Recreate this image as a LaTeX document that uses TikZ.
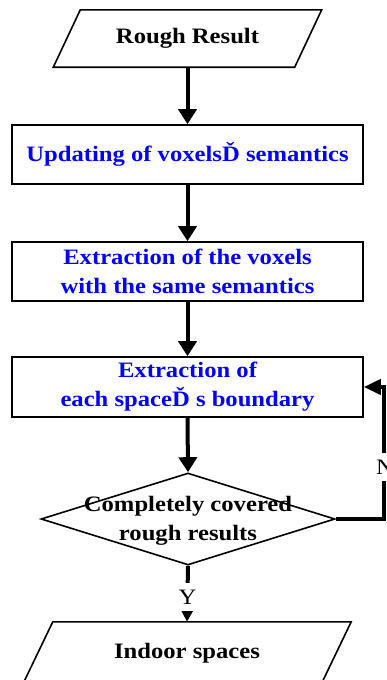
\documentclass[tikz,border=0pt]{standalone}
\usepackage{fontspec}
\setmainfont{Liberation Serif}[FakeStretch=1.12]
\usetikzlibrary{arrows.meta,shapes.geometric}
\begin{document}
\begin{tikzpicture}[x=1pt,y=-1pt,
  txt/.style={font=\fontsize{22}{29}\selectfont\bfseries, align=center, inner sep=0pt},
  procbox/.style={txt, draw, line width=1.6pt, minimum width=351pt, text=blue},
  iobox/.style={txt, inner sep=0pt},
  iodraw/.style={draw, line width=1.6pt, line join=miter},
  flow/.style={line width=4pt, -{Triangle[width=18pt,length=15pt]}},
  flowsmall/.style={line width=4pt, -{Triangle[width=13pt,length=13pt]}},
  lbl/.style={font=\fontsize{22}{26}\selectfont, fill=white, inner xsep=2pt, inner ysep=6.5pt}
]
\useasboundingbox (0,0) rectangle (387,680);
\clip (0,0) rectangle (387,680);

% top parallelogram
\node[iobox, minimum width=241pt, minimum height=57pt] (rr) at (187.5,38.5) {Rough Result};
\draw[iodraw] ([xshift=13.5pt]rr.north west) -- ([xshift=13.5pt]rr.north east)
  -- ([xshift=-13.5pt]rr.south east) -- ([xshift=-13.5pt]rr.south west) -- cycle;

% process boxes
\node[procbox, minimum height=59pt] (b1) at (187.5,154.5) {Updating of voxelsĎ semantics};
\node[procbox, minimum height=59pt] (b2) at (187.5,271.5) {Extraction of the voxels\\with the same semantics};
\node[procbox, minimum height=60pt] (b3) at (187.5,387) {Extraction of\\each spaceĎ s boundary};

% decision
\node[diamond, draw, line width=1.6pt, minimum width=294pt, minimum height=92pt, inner sep=0pt] (dec) at (188,519) {};
\node[txt] (dect) at (188,521) {Completely covered\\rough results};

% bottom parallelogram
\node[iobox, minimum width=298pt, minimum height=62pt] (ip) at (187,653) {Indoor spaces};
\draw[iodraw] ([xshift=15pt]ip.north west) -- ([xshift=15pt]ip.north east)
  -- ([xshift=-15pt]ip.south east) -- ([xshift=-15pt]ip.south west) -- cycle;

% connectors
\draw[flow] (rr.south) -- (b1.north);
\draw[flow] (b1.south) -- (b2.north);
\draw[flow] (b2.south) -- (b3.north);
\draw[flow] (b3.south) -- (dec.north);
\draw[flow, -{Triangle[width=15pt,length=17pt]}] (dec.east) -- ++(48,0) |- (b3.east);
\node[lbl] (nl) at (385,467) {N};
\draw[flowsmall] (dec.south) -- node[lbl, pos=0.56] (yl) {Y} (ip.north);
\end{tikzpicture}
\end{document}
